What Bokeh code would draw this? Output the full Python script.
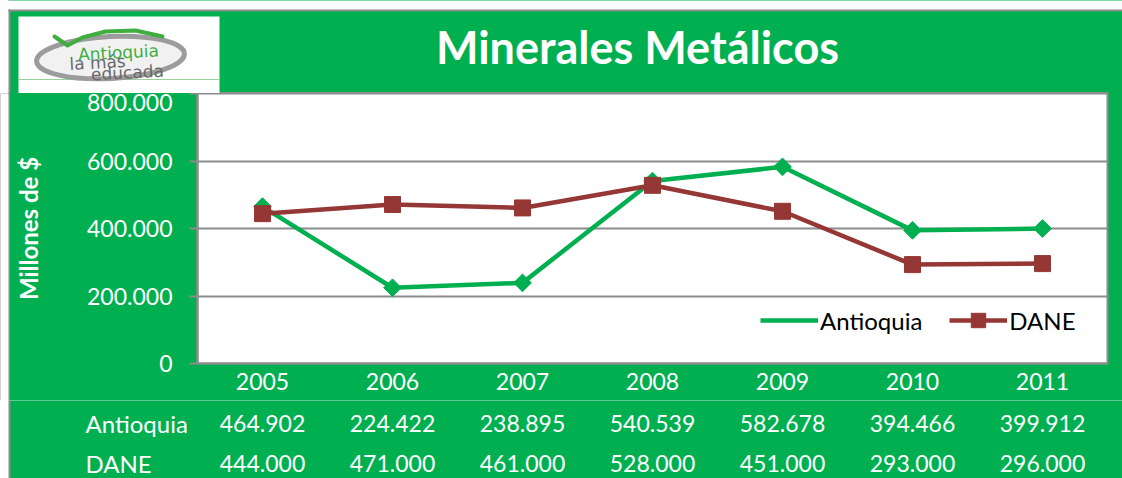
from bokeh.plotting import figure
from bokeh.layouts import column, row
from bokeh.models import (ColumnDataSource, Legend, LegendItem, FixedTicker, Range1d)
from bokeh.core.properties import value
from bokeh.embed import file_html
from bokeh.resources import INLINE
import numpy as np

years = ["2005", "2006", "2007", "2008", "2009", "2010", "2011"]
antioquia = [464902, 224422, 238895, 540539, 582678, 394466, 399912]
dane = [444000, 471000, 461000, 528000, 451000, 293000, 296000]
y_ticks = [0, 200000, 400000, 600000, 800000]
y_tick_labels = ["0", "200.000", "400.000", "600.000", "800.000"]
title_text = "Minerales Metálicos"
y_title = "Millones de $"
series_names = ["Antioquia", "DANE"]
logo_lines = ["Antioquia", "la más", "educada"]

GREEN = "#00B050"
RED = "#953735"
GRAY = "#8C8C8C"
FONT = "Lato"

def fmt(v):
    return f"{v:,}".replace(",", ".")

W, H = 1122, 478
FL, FR, FT, FB = 197, 1107, 93, 363     # plot-area edges in page pixels
MAIN_BOTTOM = 400                        # end of main figure
EDGE = 10                                # outer white margin + gray border

def blank(width, height, x0, x1, y0, y1, bg="white"):
    f = figure(width=width, height=height, x_range=Range1d(x0, x1), y_range=Range1d(y0, y1),
               output_backend="svg", toolbar_location=None, title=None,
               x_axis_location=None, y_axis_location=None, frame_align=False,
               min_border=0, min_border_left=0, min_border_right=0,
               min_border_top=0, min_border_bottom=0)
    f.grid.visible = False
    f.outline_line_color = None
    f.background_fill_color = bg
    f.border_fill_color = bg
    return f

# ---------------- header (title band + logo) ----------------
hdr = blank(W, FT, 0, W, FT, 0)
hdr.quad(left=9, right=W, top=10, bottom=FT, fill_color=GREEN, line_color=None)
hdr.quad(left=8, right=W, top=9, bottom=11, fill_color=GRAY, line_color=None)
hdr.quad(left=8, right=10, top=9, bottom=FT, fill_color=GRAY, line_color=None)
hdr.quad(left=FL, right=FR + 1, top=FT - 1.5, bottom=FT, fill_color=GRAY, line_color=None)
hdr.text(x=[637], y=[46], text=[title_text], text_align="center", text_baseline="middle",
         text_color="white", text_font=value(FONT), text_font_style="bold",
         text_font_size="45px")
# logo
hdr.quad(left=18, right=219, top=16, bottom=FT, fill_color="white", line_color=None)
hdr.quad(left=18, right=219, top=78.5, bottom=79.5, fill_color="#9BD09B", line_color=None)
hdr.ellipse(x=[110], y=[57], width=[148], height=[42], angle=[np.deg2rad(3)],
            fill_color="#F1F1F1", line_color="#9C9C9C", line_width=5)
hdr.line(x=[54, 67, 82, 105, 135, 162], y=[36, 45, 37, 31, 30, 36],
         line_color="#3FAE3F", line_width=4, line_cap="round", line_join="round")
hdr.text(x=[118, 97, 127], y=[52, 62, 72], text=logo_lines,
         text_align="center", text_baseline="middle", angle=np.deg2rad(3),
         text_color=["#3FAE3F", "#6A6A6A", "#6A6A6A"], text_font=value("DejaVu Sans"),
         text_font_size="17px")

# ---------------- left strip (outer border) ----------------
strip = blank(EDGE, MAIN_BOTTOM - FT, 0, EDGE, 0, 1, bg=GRAY)
strip.quad(left=0, right=8, top=1, bottom=0, fill_color="white", line_color=None)

# ---------------- main chart ----------------
p = figure(width=W - EDGE, height=MAIN_BOTTOM - FT, x_range=years, y_range=Range1d(0, 800000),
           output_backend="svg", toolbar_location=None, title=None, frame_align=False,
           min_border_left=FL - EDGE, min_border_right=W - FR, min_border_top=0,
           min_border_bottom=MAIN_BOTTOM - FB)
p.background_fill_color = "white"
p.border_fill_color = GREEN
p.outline_line_color = GRAY
p.outline_line_width = 2

p.xgrid.grid_line_color = None
p.ygrid.grid_line_color = GRAY
p.ygrid.grid_line_width = 2
p.yaxis.ticker = FixedTicker(ticks=y_ticks)
p.yaxis.major_label_overrides = {t: l for t, l in zip(y_ticks, y_tick_labels)}
p.yaxis.axis_line_color = GRAY
p.yaxis.axis_line_width = 2
p.yaxis.major_tick_line_color = GRAY
p.yaxis.major_tick_line_width = 2
p.yaxis.major_tick_out = 8
p.yaxis.major_tick_in = 0
p.yaxis.minor_tick_line_color = None
p.yaxis.major_label_standoff = 17
p.yaxis.major_label_text_color = "white"
p.yaxis.major_label_text_font = FONT
p.yaxis.major_label_text_font_size = "23px"
p.yaxis.axis_label = y_title
p.yaxis.axis_label_text_color = "white"
p.yaxis.axis_label_text_font = FONT
p.yaxis.axis_label_text_font_style = "bold"
p.yaxis.axis_label_text_font_size = "24px"
p.yaxis.axis_label_standoff = 41

p.xaxis.axis_line_color = GRAY
p.xaxis.axis_line_width = 2
p.xaxis.major_tick_line_color = None
p.xaxis.major_tick_out = 0
p.xaxis.major_label_standoff = 9
p.xaxis.major_label_text_color = "white"
p.xaxis.major_label_text_font = FONT
p.xaxis.major_label_text_font_size = "23px"

src = ColumnDataSource(dict(x=years, a=antioquia, d=dane))

la = p.line("x", "a", source=src, line_color=GREEN, line_width=4.5)
p.scatter("x", "a", source=src, marker="square", angle=np.pi / 4, size=12.5,
          fill_color=GREEN, line_color=GREEN)
ld = p.line("x", "d", source=src, line_color=RED, line_width=4.5)
md = p.scatter("x", "d", source=src, marker="square", size=16,
               fill_color=RED, line_color=RED)
leg_a = p.scatter(x=[], y=[], marker="diamond", fill_color=GREEN, line_color=GREEN)

legend = Legend(items=[LegendItem(label=series_names[0], renderers=[la, leg_a]),
                       LegendItem(label=series_names[1], renderers=[ld, md])],
                orientation="horizontal", location=(760 - FL, 25),
                border_line_color=None, background_fill_alpha=0,
                label_text_font=FONT, label_text_font_size="24px", label_text_color="black",
                glyph_width=58, glyph_height=36, spacing=27, padding=0, margin=0,
                label_standoff=2)
p.add_layout(legend)

# ---------------- data table ----------------
unit = (FR - FL) / len(years)
tbl = blank(W, H - MAIN_BOTTOM, -FL / unit, (W - FL) / unit, H, MAIN_BOTTOM)
tbl.quad(left=(9 - FL) / unit, right=(W - FL) / unit, top=MAIN_BOTTOM, bottom=H,
         fill_color=GREEN, line_color=None)
tbl.quad(left=(8 - FL) / unit, right=(10 - FL) / unit, top=MAIN_BOTTOM, bottom=H,
         fill_color=GRAY, line_color=None)
pos = np.arange(len(years)) + 0.5
row_y = [423, 463]
for name, vals, ry in zip(series_names, [antioquia, dane], row_y):
    tbl.text(x=pos, y=[ry] * len(years), text=[fmt(v) for v in vals], text_align="center",
             text_baseline="middle", text_color="white", text_font=value(FONT),
             text_font_size="23px")
    tbl.text(x=[(85 - FL) / unit], y=[ry], text=[name], text_align="left",
             text_baseline="middle", text_color="white", text_font=value(FONT),
             text_font_size="24px")

edge_bg = ("linear-gradient(to right, #FFFFFF 0px, #FFFFFF 8px, #8C8C8C 8px, "
           "#8C8C8C 10px, #00B050 10px, #00B050 100%)")
main_row = row(strip, p, spacing=0, styles={"background": edge_bg})
layout = column(hdr, main_row, tbl, spacing=0, styles={"background": edge_bg})
open("out.html", "w").write(file_html(layout, INLINE))
